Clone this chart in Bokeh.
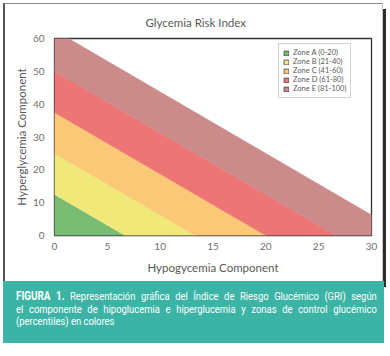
from bokeh.plotting import figure
from bokeh.models import Range1d, Legend, LegendItem, FixedTicker, Div
from bokeh.layouts import column
from bokeh.embed import file_html
from bokeh.resources import INLINE

# ---- data ----
zone_labels = ["Zone A (0-20)", "Zone B (21-40)", "Zone C (41-60)", "Zone D (61-80)", "Zone E (81-100)"]
zone_colors = ["#79bb73", "#f1e87a", "#fbc877", "#ee7575", "#cc8b8b"]
gri_edges = [0, 20, 40, 60, 80, 100]
hypo_weight = 3.0
hyper_weight = 1.6
hypo_limits = [0, 30]
hyper_limits = [0, 60]
x_ticks = [0, 5, 10, 15, 20, 25, 30]
y_ticks = [0, 10, 20, 30, 40, 50, 60]
title_text = "Glycemia Risk Index"
x_label = "Hypogycemia Component"
y_label = "Hyperglycemia Component"
caption_bold = "FIGURA 1."
caption_lines = [
    "Representación gráfica del Índice de Riesgo Glucémico (GRI) según",
    "el componente de hipoglucemia e hiperglucemia y zonas de control glucémico",
    "(percentiles) en colores",
]


def clip_halfplane(poly, a, b, c, sign):
    """keep points where sign*(a*x+b*y-c) <= 0"""
    out = []
    n = len(poly)
    for i in range(n):
        p1 = poly[i]
        p2 = poly[(i + 1) % n]
        f1 = sign * (a * p1[0] + b * p1[1] - c)
        f2 = sign * (a * p2[0] + b * p2[1] - c)
        if f1 <= 0:
            out.append(p1)
        if (f1 < 0 < f2) or (f2 < 0 < f1):
            t = f1 / (f1 - f2)
            out.append((p1[0] + t * (p2[0] - p1[0]), p1[1] + t * (p2[1] - p1[1])))
    return out


rect = [(hypo_limits[0], hyper_limits[0]), (hypo_limits[1], hyper_limits[0]),
        (hypo_limits[1], hyper_limits[1]), (hypo_limits[0], hyper_limits[1])]

FONT = "Lato"
GREY = "#595959"
TICK_GREY = "#6e6e6e"

p = figure(width=380, height=278,
           x_range=Range1d(hypo_limits[0], hypo_limits[1]),
           y_range=Range1d(hyper_limits[0], hyper_limits[1]),
           output_backend="svg", toolbar_location=None,
           min_border_left=49, min_border_right=14,
           min_border_top=34, min_border_bottom=47)
p.styles = {
    "margin-left": "3px",
    "margin-top": "3px",
    "border-left": "2px solid #555555",
    "border-top": "1px solid #8a8a8a",
    "border-right": "1px solid #c4c4c4",
    "box-shadow": "3px 6px 0 0 #2e2e2e",
}

p.background_fill_color = "white"
p.border_fill_color = "white"
p.outline_line_color = "#333333"
p.outline_line_width = 1.3
p.grid.visible = False

legend_items = []
nan = float("nan")
for i, (lab, col) in enumerate(zip(zone_labels, zone_colors)):
    lo, hi = gri_edges[i], gri_edges[i + 1]
    poly = clip_halfplane(rect, hypo_weight, hyper_weight, lo, -1)
    poly = clip_halfplane(poly, hypo_weight, hyper_weight, hi, 1)
    xs = [q[0] for q in poly]
    ys = [q[1] for q in poly]
    p.patch(xs, ys, fill_color=col, line_color=col, line_width=0.5)
    dummy = p.patch([nan], [nan], fill_color=col, line_color="#404040", line_width=0.8)
    legend_items.append(LegendItem(label=lab, renderers=[dummy]))

legend = Legend(items=legend_items, location=(224, 137))
legend.label_text_font = FONT
legend.label_text_font_size = "7.5px"
legend.label_text_color = GREY
legend.glyph_width = 6
legend.glyph_height = 6
legend.label_height = 7
legend.label_standoff = 4
legend.spacing = 0
legend.padding = 4
legend.margin = 0
legend.border_line_color = "#a6a6a6"
legend.border_line_width = 1
legend.background_fill_color = "white"
p.add_layout(legend, "center")

for ax in (p.xaxis[0], p.yaxis[0]):
    ax.axis_line_color = None
    ax.major_tick_line_color = None
    ax.minor_tick_line_color = None
    ax.major_tick_out = 0
    ax.major_tick_in = 0
    ax.major_label_text_font = FONT
    ax.major_label_text_font_size = "10px"
    ax.major_label_text_color = TICK_GREY
    ax.axis_label_text_font = FONT
    ax.axis_label_text_font_size = "11.5px"
    ax.axis_label_text_color = GREY
    ax.axis_label_text_font_style = "normal"

p.xaxis.ticker = FixedTicker(ticks=x_ticks)
p.yaxis.ticker = FixedTicker(ticks=y_ticks)
p.xaxis.axis_label = x_label
p.yaxis.axis_label = y_label
p.xaxis.major_label_standoff = 7
p.xaxis.axis_label_standoff = 8
p.yaxis.major_label_standoff = 10
p.yaxis.axis_label_standoff = 2

p.title.text = title_text
p.title.align = "left"
p.title.offset = 91
p.title.standoff = 19
p.title.text_font = FONT
p.title.text_font_size = "11.5px"
p.title.text_font_style = "normal"
p.title.text_color = GREY

# ---- caption panel ----
TEAL = "#3bb4a5"
SCALE = 0.82
inner_w = round(361 / SCALE)
cap_html = (
    f'<div style="width:{inner_w}px; transform:scaleX({SCALE}); transform-origin:0 0; '
    f'margin:9px 0 0 13px; font-family:Roboto, sans-serif; font-size:11.5px; '
    f'line-height:12.5px; color:white;">'
    f'<div style="text-align:justify; text-align-last:justify; height:12.5px;">'
    f'<b style="font-size:12px">{caption_bold}</b> {caption_lines[0]}</div>'
    f'<div style="text-align:justify; text-align-last:justify; height:12.5px;">{caption_lines[1]}</div>'
    f'<div style="height:12.5px;">{caption_lines[2]}</div>'
    f'</div>'
)
cap = Div(text=cap_html, width=381, height=62, margin=(0, 6, 0, 3),
          styles={"background-color": TEAL, "overflow": "hidden"})

layout = column(p, cap, spacing=0)
open("out.html", "w").write(file_html(layout, INLINE))
